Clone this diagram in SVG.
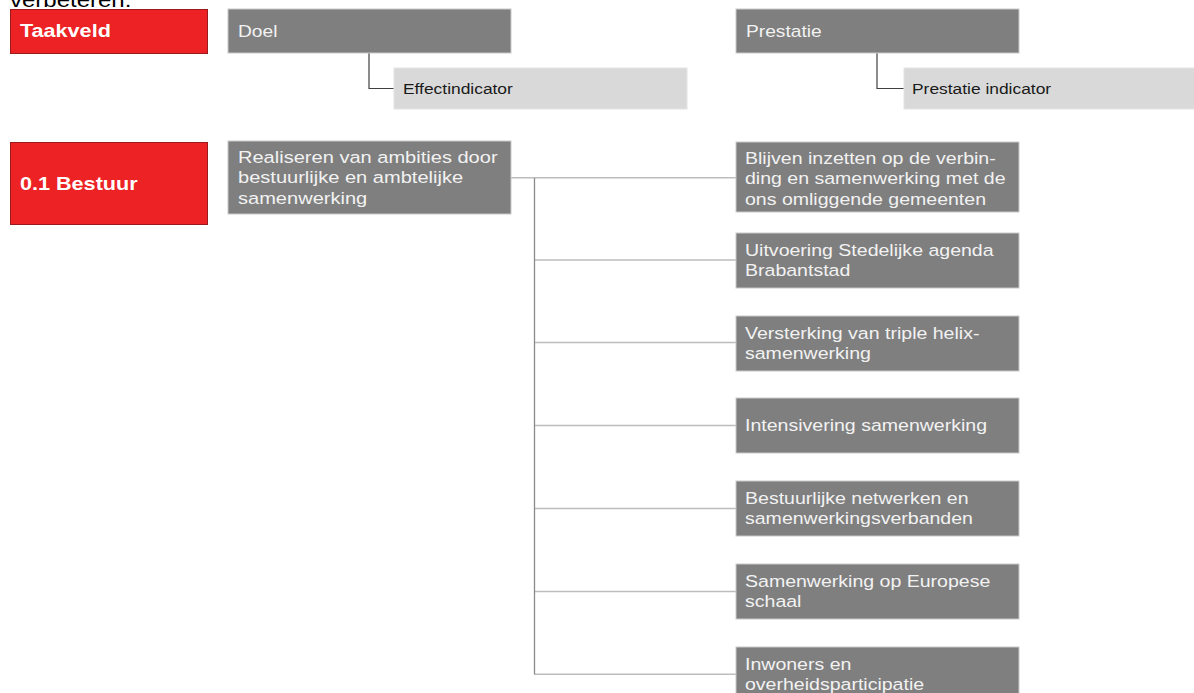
<svg xmlns="http://www.w3.org/2000/svg" width="1194" height="693" viewBox="0 0 1194 693">
<style>
.bg{fill:#ffffff}
.red{fill:#ED2224;stroke:#9A1B1D;stroke-width:1}
.gray{fill:#7F7F7F;stroke:#C9C9C9;stroke-width:1}
.light{fill:#D9D9D9;stroke:#E4E4E4;stroke-width:1}
.t{font-family:"Liberation Sans",Arial,sans-serif;font-size:17px;fill:#F2F2F2}
.th{font-family:"Liberation Sans",Arial,sans-serif;font-size:16px;fill:#F2F2F2}
.tb{font-family:"Liberation Sans",Arial,sans-serif;font-size:18px;font-weight:bold;fill:#FFFFFF}
.ts{font-family:"Liberation Sans",Arial,sans-serif;font-size:14.5px;fill:#1A1A1A}
.tk{font-family:"Liberation Sans",Arial,sans-serif;font-size:20px;fill:#000000}
.cTop{fill:none;stroke:#404040;stroke-width:1.2}
.trunk{fill:none;stroke:#8A8A8A;stroke-width:1.3}
.branch{fill:none;stroke:#BDBDBD;stroke-width:1.6}
</style>
<rect class="bg" x="0" y="0" width="1194" height="693"/>
<text class="tk" transform="translate(10,7) scale(1.2,1)">verbeteren.</text>

<g id="connectors">
<polyline class="cTop" points="369,53 369,88.5 394,88.5"/>
<polyline class="cTop" points="877,53 877,88.5 904,88.5"/>
<line class="branch" x1="511" y1="177.7" x2="736" y2="177.7"/>
<line class="branch" x1="534.5" y1="260" x2="736" y2="260"/>
<line class="branch" x1="534.5" y1="342.5" x2="736" y2="342.5"/>
<line class="branch" x1="534.5" y1="425.5" x2="736" y2="425.5"/>
<line class="branch" x1="534.5" y1="508.5" x2="736" y2="508.5"/>
<line class="branch" x1="534.5" y1="591.5" x2="736" y2="591.5"/>
<line class="branch" x1="534.5" y1="674.3" x2="736" y2="674.3"/>
<line class="trunk" x1="534.5" y1="178" x2="534.5" y2="674.5"/>
</g>

<g id="taakveld">
<rect class="red" x="10.5" y="9.5" width="197" height="44"/>
<text class="tb" transform="translate(20,37) scale(1.2,1)">Taakveld</text>
</g>
<g id="doel">
<rect class="gray" x="228" y="9" width="283" height="44"/>
<text class="th" transform="translate(238,37) scale(1.2,1)">Doel</text>
</g>
<g id="effectindicator">
<rect class="light" x="394" y="68" width="293" height="41"/>
<text class="ts" transform="translate(403,94) scale(1.2,1)">Effectindicator</text>
</g>
<g id="prestatie">
<rect class="gray" x="736" y="9" width="283" height="44"/>
<text class="th" transform="translate(746,37) scale(1.2,1)">Prestatie</text>
</g>
<g id="prestatie-indicator">
<rect class="light" x="904" y="68" width="292" height="41"/>
<text class="ts" transform="translate(912,94) scale(1.2,1)">Prestatie indicator</text>
</g>

<g id="bestuur">
<rect class="red" x="10.5" y="142.5" width="197" height="82"/>
<text class="tb" transform="translate(20,190) scale(1.2,1)">0.1 Bestuur</text>
</g>
<g id="realiseren">
<rect class="gray" x="228" y="141" width="283" height="73"/>
<text class="t" transform="translate(238,163) scale(1.18,1)"><tspan x="0" y="0">Realiseren van ambities door</tspan><tspan x="0" y="20.5">bestuurlijke en ambtelijke</tspan><tspan x="0" y="41">samenwerking</tspan></text>
</g>

<g id="p1">
<rect class="gray" x="736" y="142" width="283" height="70"/>
<text class="t" transform="translate(745,164) scale(1.15,1)"><tspan x="0" y="0">Blijven inzetten op de verbin-</tspan><tspan x="0" y="20.5">ding en samenwerking met de</tspan><tspan x="0" y="41">ons omliggende gemeenten</tspan></text>
</g>
<g id="p2">
<rect class="gray" x="736" y="233" width="283" height="55"/>
<text class="t" transform="translate(745,256) scale(1.15,1)"><tspan x="0" y="0">Uitvoering Stedelijke agenda</tspan><tspan x="0" y="20.5">Brabantstad</tspan></text>
</g>
<g id="p3">
<rect class="gray" x="736" y="316" width="283" height="55"/>
<text class="t" transform="translate(745,338.5) scale(1.15,1)"><tspan x="0" y="0">Versterking van triple helix-</tspan><tspan x="0" y="20.5">samenwerking</tspan></text>
</g>
<g id="p4">
<rect class="gray" x="736" y="398" width="283" height="55"/>
<text class="t" transform="translate(745,431) scale(1.15,1)">Intensivering samenwerking</text>
</g>
<g id="p5">
<rect class="gray" x="736" y="481" width="283" height="55"/>
<text class="t" transform="translate(745,504) scale(1.15,1)"><tspan x="0" y="0">Bestuurlijke netwerken en</tspan><tspan x="0" y="20.5">samenwerkingsverbanden</tspan></text>
</g>
<g id="p6">
<rect class="gray" x="736" y="564" width="283" height="55"/>
<text class="t" transform="translate(745,586.5) scale(1.15,1)"><tspan x="0" y="0">Samenwerking op Europese</tspan><tspan x="0" y="20.5">schaal</tspan></text>
</g>
<g id="p7">
<rect class="gray" x="736" y="647" width="283" height="55"/>
<text class="t" transform="translate(745,669.5) scale(1.15,1)"><tspan x="0" y="0">Inwoners en</tspan><tspan x="0" y="20.5">overheidsparticipatie</tspan></text>
</g>
</svg>
